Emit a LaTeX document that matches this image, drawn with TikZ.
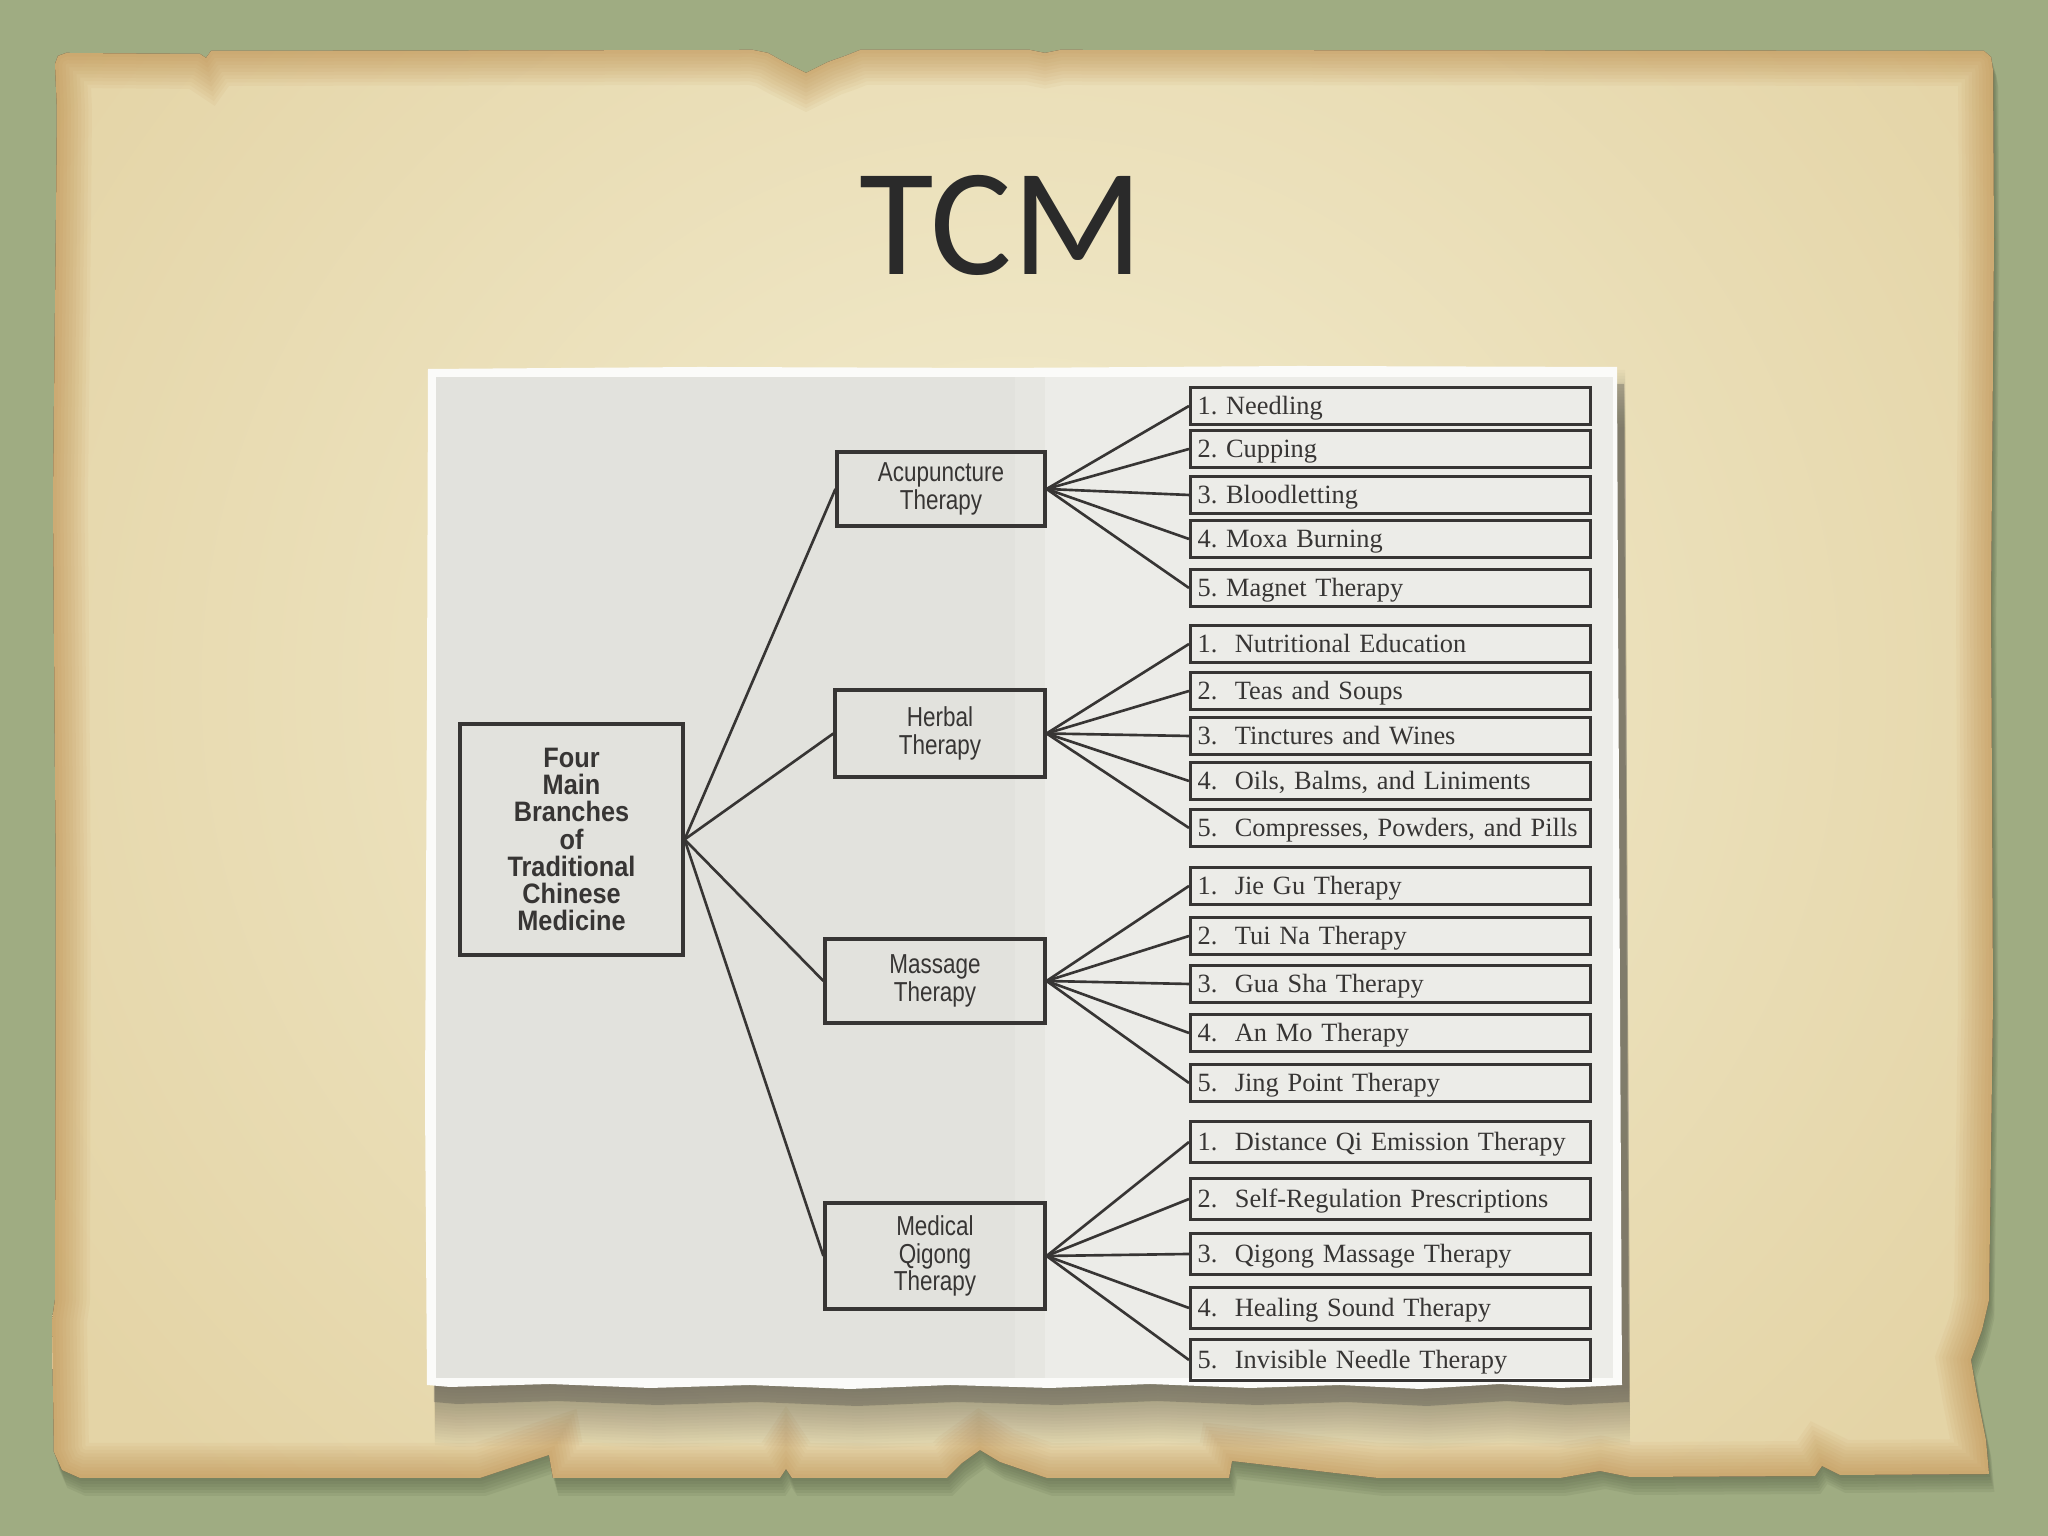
\documentclass[tikz,border=0pt]{standalone}
\usepackage{fontspec}

\newfontfamily\titlefont{Carlito}
\newfontfamily\leaffont{Liberation Serif}
\newfontfamily\boxfont[FakeStretch=0.82]{Liberation Sans}
\newfontfamily\rootfont[FakeStretch=0.9]{Liberation Sans}

\definecolor{bggreen}{RGB}{159,172,130}
\definecolor{shadegreen}{RGB}{90,100,72}
\definecolor{parchcol}{RGB}{228,212,166}
\definecolor{parchlight}{RGB}{243,237,208}
\definecolor{parchdark}{RGB}{180,125,55}
\definecolor{photowhite}{RGB}{251,251,249}
\definecolor{paperleft}{RGB}{226,226,221}
\definecolor{paperright}{RGB}{236,236,232}
\definecolor{inkgray}{RGB}{55,53,52}
\definecolor{titlegray}{RGB}{42,42,42}

\begin{document}
\begin{tikzpicture}[
    ink/.style={draw=inkgray, line width=0.9pt, text=inkgray},
    branch/.style={ink, align=center, inner sep=0pt,
                   font=\boxfont\fontsize{7.8}{7.8}\selectfont},
    leaf/.style={ink, anchor=west, minimum height=0.37cm,
                 inner xsep=0.07cm, inner ysep=0pt, text width=3.86cm,
                 align=left, text height=5pt, text depth=0pt,
                 font=\leaffont\fontsize{7.5}{8}\selectfont\frenchspacing},
    conn/.style={draw=inkgray, line width=0.75pt}]

\useasboundingbox (0,0) rectangle (20.48,15.36);

% pozadí
\fill[bggreen] (0,0) rectangle (20.48,15.36);

% pergamen
\path[save path=\parch]
  (0.55,14.72) -- (0.58,14.80) -- (0.66,14.83) -- (2.00,14.82) -- (2.06,14.78)
  -- (2.11,14.85) -- (7.53,14.86) -- (7.68,14.83) -- (7.86,14.73) -- (8.06,14.63)
  -- (8.28,14.74) -- (8.45,14.80) -- (8.60,14.86) -- (10.30,14.86) -- (10.45,14.83)
  -- (10.60,14.86) -- (19.84,14.85) -- (19.91,14.79) -- (19.93,14.66)
  -- (19.94,12.96) -- (19.91,9.36) -- (19.93,5.36) -- (19.89,2.36) -- (19.82,2.06)
  -- (19.71,1.76) -- (19.77,1.41) -- (19.86,0.96) -- (19.89,0.62) -- (18.40,0.61)
  -- (18.30,0.66) -- (18.22,0.70) -- (18.15,0.60) -- (16.30,0.59) -- (16.00,0.65)
  -- (15.60,0.58) -- (13.78,0.58) -- (12.32,0.75) -- (12.29,0.58) -- (10.47,0.58)
  -- (10.00,0.74) -- (9.80,0.86) -- (9.62,0.73) -- (9.47,0.58) -- (7.92,0.58)
  -- (7.86,0.67) -- (7.80,0.58) -- (5.53,0.58) -- (5.49,0.81) -- (4.80,0.58)
  -- (0.80,0.58) -- (0.62,0.66) -- (0.54,0.84) -- (0.52,2.16) -- (0.55,2.36)
  -- (0.56,6.36) -- (0.53,10.36) -- (0.56,13.16) -- (0.57,14.26) -- cycle;
\foreach \s in {0.03,0.06,...,0.18} {
  \begin{scope}[transform canvas={shift={(0.3*\s,-\s)}}]
    \fill[shadegreen, opacity=0.12, use path=\parch];
  \end{scope}
}
\fill[parchcol, use path=\parch];
\begin{scope}
  \clip[use path=\parch];
  \fill[inner color=parchlight, outer color=parchcol] (-1.5,-2.5) rectangle (21.9,19.5);
  \foreach \w in {0.7,0.63,...,0.07} {
    \draw[parchdark, opacity=0.06, line width=\w cm, use path=\parch];
  }
\end{scope}

% fotka
\path[save path=\photo]
  (4.28,11.67) -- (7.00,11.69) -- (10.00,11.68) -- (13.00,11.70) -- (16.17,11.69)
  -- (16.18,9.36) -- (16.20,5.36) -- (16.22,1.51) -- (15.60,1.48) -- (15.00,1.52)
  -- (14.20,1.47) -- (13.40,1.51) -- (12.50,1.48) -- (11.50,1.52) -- (10.50,1.48)
  -- (9.50,1.51) -- (8.50,1.47) -- (7.50,1.51) -- (6.50,1.48) -- (5.50,1.52)
  -- (4.50,1.49) -- (4.27,1.51) -- (4.25,4.36) -- (4.27,8.36) -- cycle;
\foreach \s in {0.03,0.06,...,0.60} {
  \begin{scope}[transform canvas={shift={(0.08,-\s)}}]
    \fill[black!80, opacity=0.025, use path=\photo];
  \end{scope}
}
\begin{scope}[transform canvas={shift={(0.07,-0.17)}}]
  \fill[black!75, opacity=0.3, use path=\photo];
\end{scope}
\fill[photowhite, use path=\photo];
\fill[paperleft] (4.36,1.58) rectangle (10.15,11.59);
\fill[paperleft!60!paperright] (10.15,1.58) rectangle (10.45,11.59);
\fill[paperright] (10.45,1.58) rectangle (16.13,11.59);

% nadpis
\node[font=\titlefont\fontsize{43.5}{48}\selectfont, text=titlegray] (title) at (10.01,13.105) {TCM};

% hlavní uzel
\node[ink, align=center, minimum width=2.23cm, minimum height=2.31cm, inner sep=0pt,
      font=\rootfont\bfseries\fontsize{8}{7.7}\selectfont]
      (root) at (5.715,6.965) {Four\\Main\\Branches\\of\\Traditional\\Chinese\\Medicine};

% větve
\node[branch, minimum width=2.08cm, minimum height=0.74cm] (acu) at (9.41,10.47) {Acupuncture\\Therapy};
\node[branch, minimum width=2.10cm, minimum height=0.87cm] (herb) at (9.40,8.025) {Herbal\\Therapy};
\node[branch, minimum width=2.20cm, minimum height=0.84cm] (mass) at (9.35,5.55) {Massage\\Therapy};
\node[branch, minimum width=2.20cm, minimum height=1.06cm] (qig) at (9.35,2.80) {Medical\\Qigong\\Therapy};

% listy - akupunktura
\node[leaf] (acu1) at (11.89,11.30) {1. Needling};
\node[leaf] (acu2) at (11.89,10.87) {2. Cupping};
\node[leaf] (acu3) at (11.89,10.41) {3. Bloodletting};
\node[leaf] (acu4) at (11.89,9.97) {4. Moxa Burning};
\node[leaf] (acu5) at (11.89,9.48) {5. Magnet Therapy};

% listy - byliny
\node[leaf] (herb1) at (11.89,8.92) {1.~~Nutritional Education};
\node[leaf] (herb2) at (11.89,8.45) {2.~~Teas and Soups};
\node[leaf] (herb3) at (11.89,8.00) {3.~~Tinctures and Wines};
\node[leaf] (herb4) at (11.89,7.55) {4.~~Oils, Balms, and Liniments};
\node[leaf] (herb5) at (11.89,7.08) {5.~~Compresses, Powders, and Pills};

% listy - masáž
\node[leaf] (mass1) at (11.89,6.50) {1.~~Jie Gu Therapy};
\node[leaf] (mass2) at (11.89,6.00) {2.~~Tui Na Therapy};
\node[leaf] (mass3) at (11.89,5.52) {3.~~Gua Sha Therapy};
\node[leaf] (mass4) at (11.89,5.03) {4.~~An Mo Therapy};
\node[leaf] (mass5) at (11.89,4.53) {5.~~Jing Point Therapy};

% listy - čchi-kung
\node[leaf, minimum height=0.41cm] (qig1) at (11.89,3.94) {1.~~Distance Qi Emission Therapy};
\node[leaf, minimum height=0.41cm] (qig2) at (11.89,3.37) {2.~~Self-Regulation Prescriptions};
\node[leaf, minimum height=0.41cm] (qig3) at (11.89,2.82) {3.~~Qigong Massage Therapy};
\node[leaf, minimum height=0.41cm] (qig4) at (11.89,2.28) {4.~~Healing Sound Therapy};
\node[leaf, minimum height=0.41cm] (qig5) at (11.89,1.76) {5.~~Invisible Needle Therapy};

% spojnice
\draw[conn] (root.east) -- (acu.west);
\draw[conn] (root.east) -- (herb.west);
\draw[conn] (root.east) -- (mass.west);
\draw[conn] (root.east) -- (qig.west);

\draw[conn] (acu.east) -- (acu1.west);
\draw[conn] (acu.east) -- (acu2.west);
\draw[conn] (acu.east) -- (acu3.west);
\draw[conn] (acu.east) -- (acu4.west);
\draw[conn] (acu.east) -- (acu5.west);

\draw[conn] (herb.east) -- (herb1.west);
\draw[conn] (herb.east) -- (herb2.west);
\draw[conn] (herb.east) -- (herb3.west);
\draw[conn] (herb.east) -- (herb4.west);
\draw[conn] (herb.east) -- (herb5.west);

\draw[conn] (mass.east) -- (mass1.west);
\draw[conn] (mass.east) -- (mass2.west);
\draw[conn] (mass.east) -- (mass3.west);
\draw[conn] (mass.east) -- (mass4.west);
\draw[conn] (mass.east) -- (mass5.west);

\draw[conn] (qig.east) -- (qig1.west);
\draw[conn] (qig.east) -- (qig2.west);
\draw[conn] (qig.east) -- (qig3.west);
\draw[conn] (qig.east) -- (qig4.west);
\draw[conn] (qig.east) -- (qig5.west);

\end{tikzpicture}
\end{document}
